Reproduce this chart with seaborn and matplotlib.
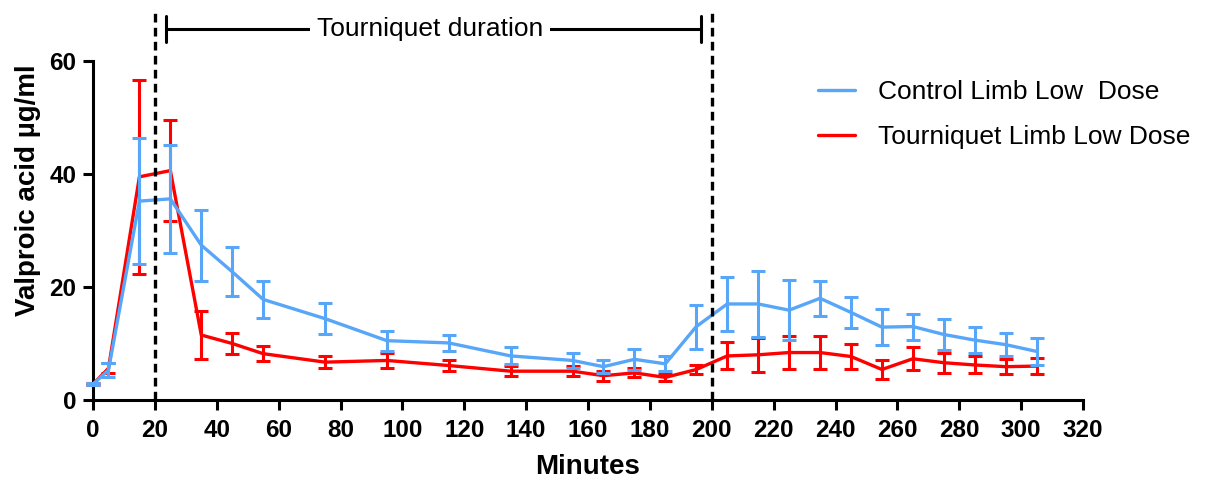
import matplotlib
matplotlib.use("Agg")
import matplotlib.pyplot as plt
import numpy as np
import pandas as pd
import seaborn as sns

# sampling times (minutes)
minutes = [0, 5, 15, 25, 35, 45, 55, 75, 95, 115, 135, 155, 165, 175, 185, 195,
           205, 215, 225, 235, 245, 255, 265, 275, 285, 295, 305]

control_mean = [2.8, 5.3, 35.2, 35.6, 27.4, 22.7, 17.8, 14.4, 10.5, 10.1, 7.8, 7.0, 5.9, 7.2, 6.4, 13.0,
                17.0, 17.0, 15.9, 18.0, 15.5, 12.9, 13.0, 11.6, 10.6, 9.8, 8.6]
control_sem = [0.2, 1.2, 11.2, 9.6, 6.3, 4.3, 3.2, 2.8, 1.8, 1.4, 1.5, 1.4, 1.2, 1.9, 1.3, 3.9,
               4.8, 5.8, 5.3, 3.1, 2.8, 3.2, 2.3, 2.8, 2.3, 2.1, 2.4]

tourniquet_mean = [2.8, 5.6, 39.5, 40.6, 11.5, 10.0, 8.2, 6.7, 7.0, 6.1, 5.1, 5.1, 4.3, 4.8, 4.0, 5.4,
                   7.8, 8.0, 8.4, 8.4, 7.7, 5.4, 7.3, 6.6, 6.2, 5.9, 6.0]
tourniquet_sem = [0.2, 0.9, 17.2, 9.0, 4.2, 1.9, 1.3, 1.1, 1.4, 1.0, 0.9, 0.9, 0.9, 0.8, 0.65, 0.85,
                  2.4, 3.0, 3.0, 2.9, 2.3, 1.75, 2.05, 1.8, 1.5, 1.3, 1.35]

series_names = ["Tourniquet Limb Low Dose", "Control Limb Low  Dose"]
colors = {"Control Limb Low  Dose": "#58A6F7", "Tourniquet Limb Low Dose": "#FF0000"}

tourniquet_start = 20
tourniquet_end = 200

df = pd.concat([
    pd.DataFrame({"Minutes": minutes, "value": tourniquet_mean, "sem": tourniquet_sem,
                  "group": series_names[0]}),
    pd.DataFrame({"Minutes": minutes, "value": control_mean, "sem": control_sem,
                  "group": series_names[1]}),
])

sns.set_style("ticks")
plt.rcParams['font.family'] = ['Liberation Sans', 'DejaVu Sans']
plt.rcParams.update({"text.color": "black", "axes.labelcolor": "black",
                     "xtick.color": "black", "ytick.color": "black",
                     "axes.edgecolor": "black"})

fig = plt.figure(figsize=(12.05, 4.82), dpi=100)
ax = fig.add_axes([93 / 1205, 1 - 400 / 482, 990 / 1205, 339 / 482])

for name in series_names:
    sub = df[df["group"] == name]
    sns.lineplot(data=sub, x="Minutes", y="value", color=colors[name], linewidth=2.4,
                 ax=ax, label=name, zorder=3, clip_on=False)
    ax.errorbar(sub["Minutes"], sub["value"], yerr=sub["sem"], fmt="none",
                ecolor=colors[name], elinewidth=2.2, capsize=5, capthick=2.2,
                zorder=3, clip_on=False)

# tourniquet on / off markers
for xv in [tourniquet_start, tourniquet_end]:
    ax.plot([xv, xv], [0, 68.5], color="black", linestyle=(0, (2.6, 1.6)),
            linewidth=2.4, clip_on=False, zorder=4)

# duration bracket
ybr = 65.7
ax.plot([23.5, 196.5], [ybr, ybr], color="black", linewidth=2.2, clip_on=False)
ax.plot([23.5, 23.5], [ybr - 2.3, ybr + 2.3], color="black", linewidth=2.2, clip_on=False)
ax.plot([196.5, 196.5], [ybr - 2.3, ybr + 2.3], color="black", linewidth=2.2, clip_on=False)
ax.text(109, ybr, "Tourniquet duration", ha="center", va="center", fontsize=19,
        bbox=dict(facecolor="white", edgecolor="none", pad=5), clip_on=False)

ax.set_xlim(0, 320)
ax.set_ylim(0, 60)
ax.set_xticks(np.arange(0, 321, 20))
ax.set_yticks([0, 20, 40, 60])
ax.tick_params(axis="both", direction="out", length=7, width=2.2, labelsize=17.5, pad=5)
ax.tick_params(axis="x", pad=7)
for lab in ax.get_xticklabels() + ax.get_yticklabels():
    lab.set_fontweight("bold")
for side in ["left", "bottom"]:
    ax.spines[side].set_linewidth(2.2)
sns.despine(ax=ax)

ax.set_xlabel("Minutes", fontsize=20, fontweight="bold", labelpad=8)
ax.set_ylabel("Valproic acid µg/ml", fontsize=20, fontweight="bold", labelpad=4)
ax.yaxis.set_label_coords(-0.053, 0.62)

handles, labels = ax.get_legend_handles_labels()
order = [labels.index(series_names[1]), labels.index(series_names[0])]
ax.legend([handles[i] for i in order], [labels[i] for i in order],
          loc="upper left", bbox_to_anchor=(794 / 1205, 1 - 56 / 482),
          bbox_transform=fig.transFigure, frameon=False, fontsize=19,
          handlelength=1.4, handletextpad=0.9, labelspacing=0.8)

fig.savefig("out.png", dpi=100)
